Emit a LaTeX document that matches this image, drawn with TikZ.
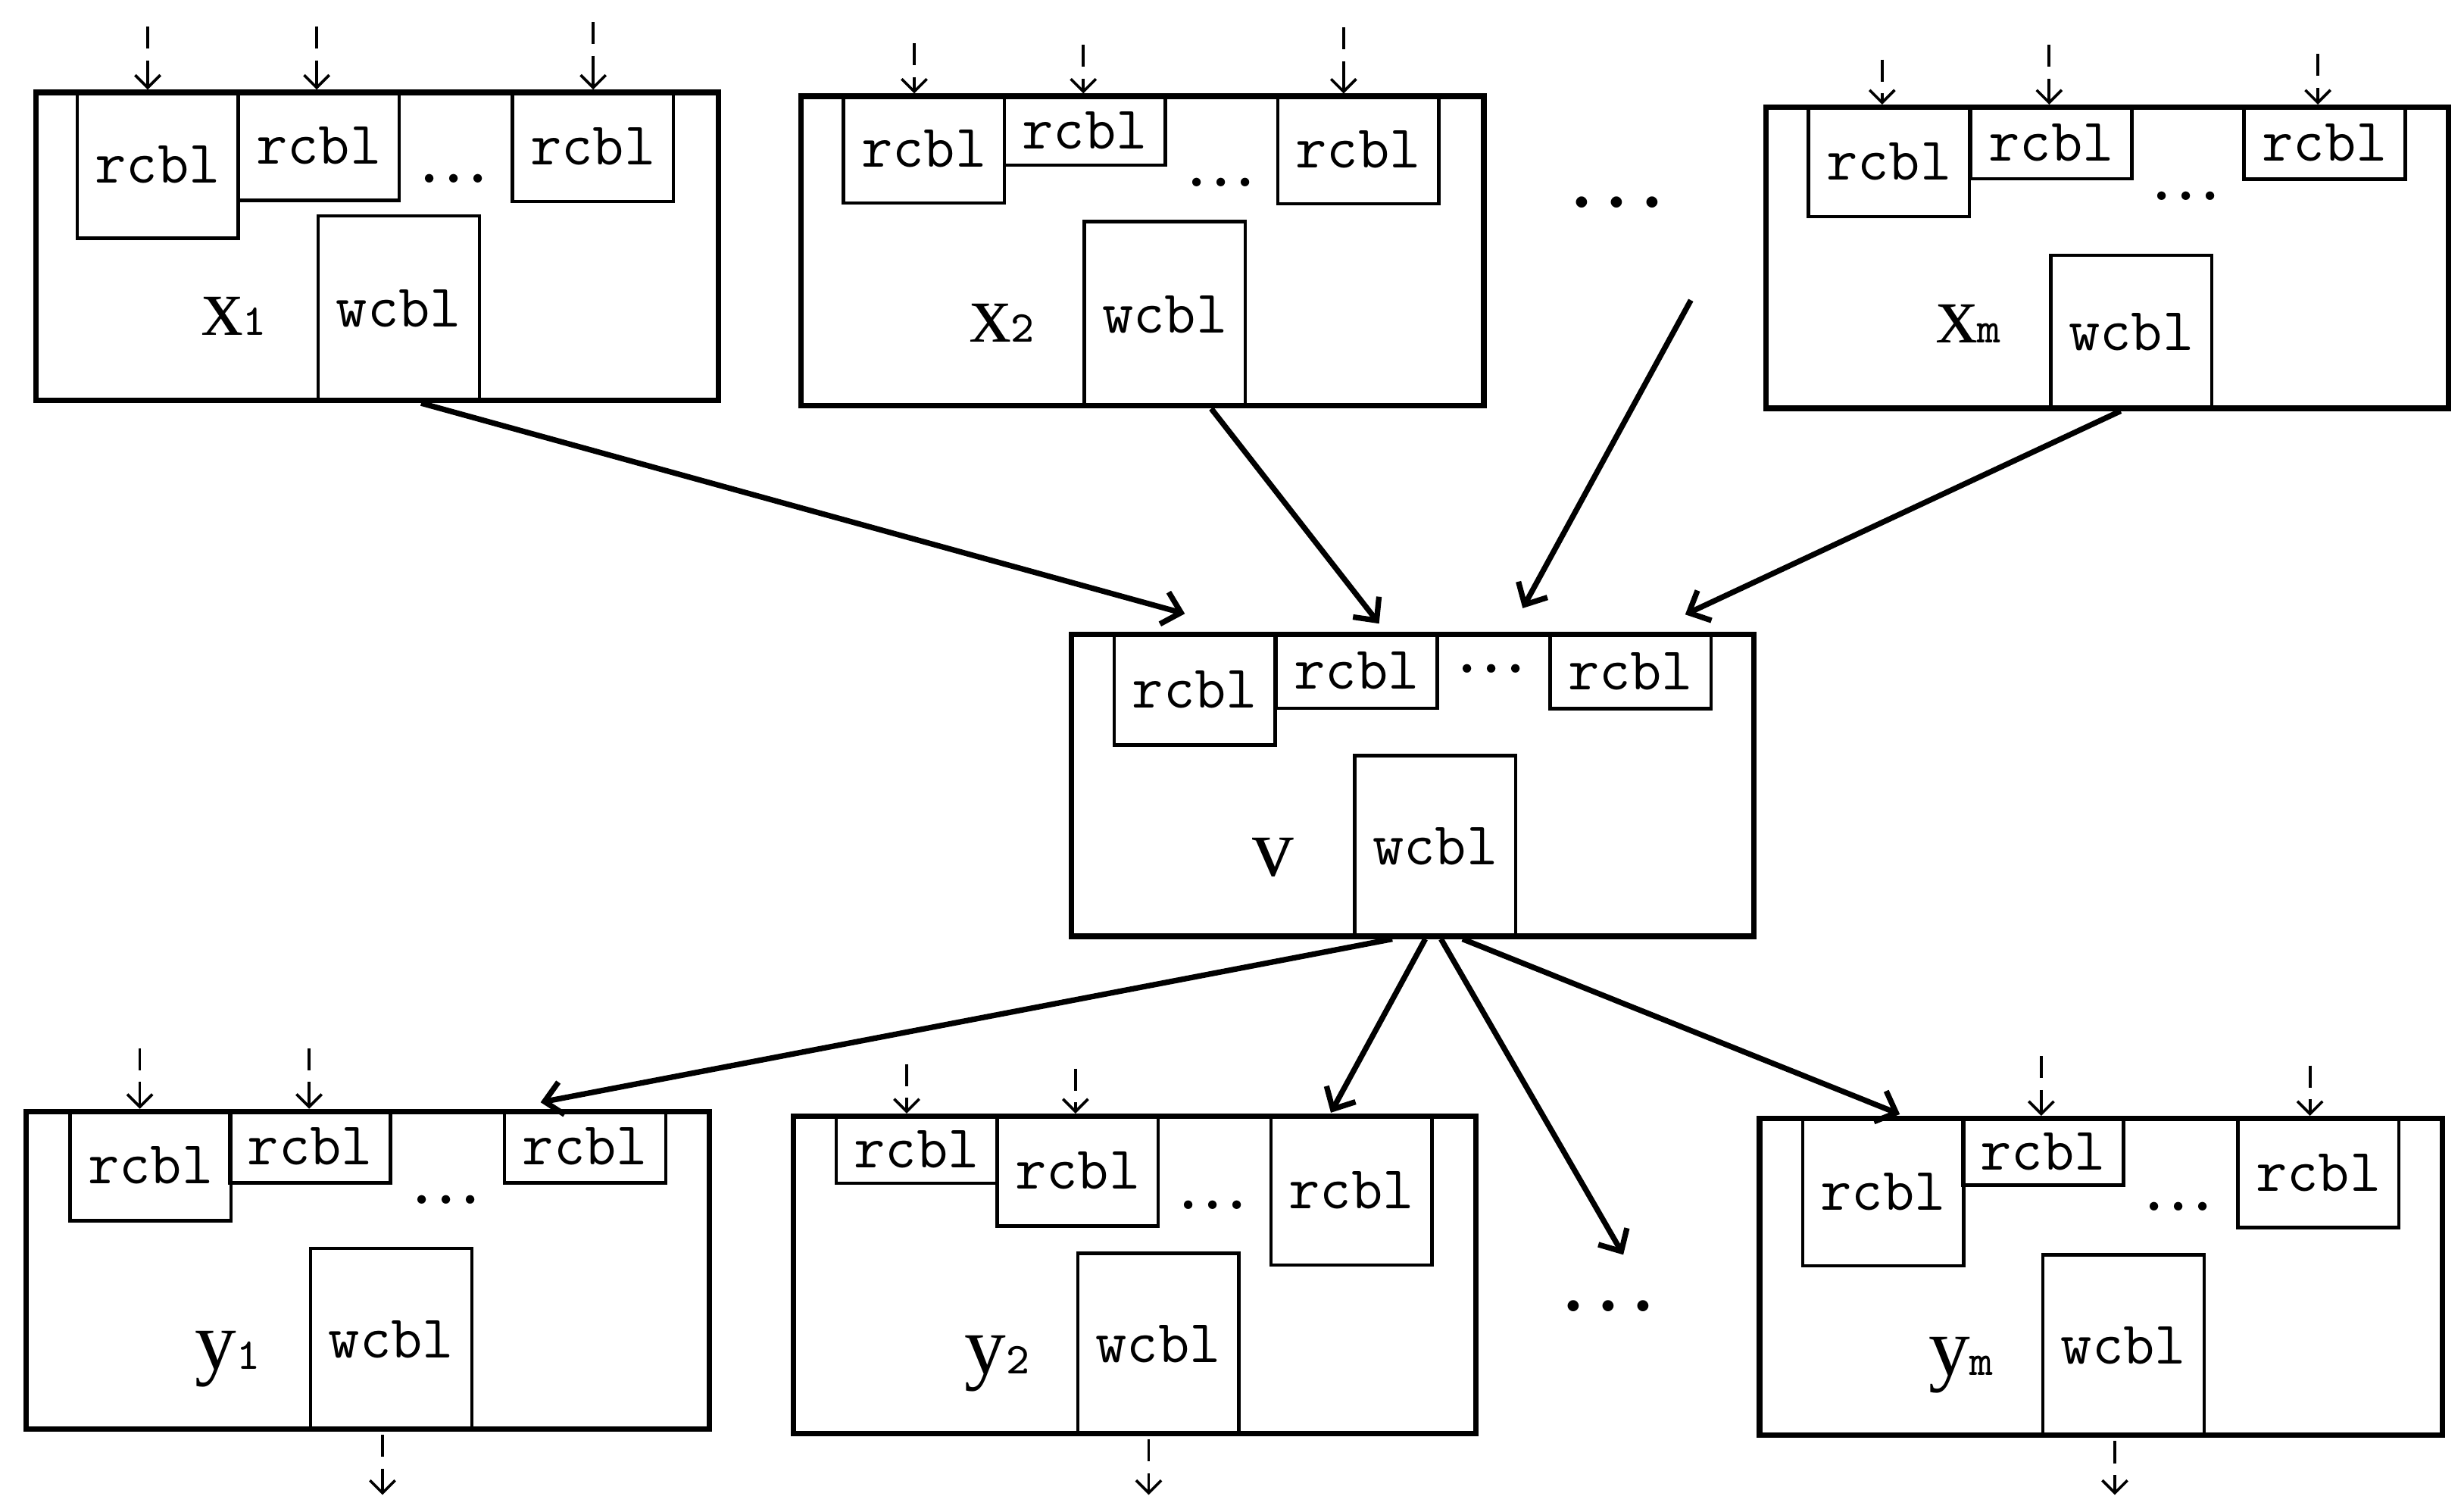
\documentclass[tikz,border=0pt]{standalone}
\usepackage{fontspec}
\newfontfamily\labelserif{Liberation Serif}
\usepackage{tikz}
\usetikzlibrary{arrows.meta,calc}

\newcommand{\lsub}[1]{{\fontsize{8}{8}\selectfont\ttfamily #1}}

\begin{document}
\begin{tikzpicture}
[x=0.1mm, y=-0.1mm,
blockbox/.style={draw, line width=1pt, inner sep=0pt, minimum width=43.45mm, anchor=north west},
rbox/.style={draw, line width=0.6pt, inner sep=0pt, minimum width=10.25mm, anchor=north west,
    font=\fontsize{11}{12}\selectfont\ttfamily},
wbox/.style={rbox, anchor=south west},
smalldots/.style={inner sep=0pt, font=\fontsize{10}{10}\selectfont\bfseries},
bigdots/.style={inner sep=0pt, font=\fontsize{14}{14}\selectfont\bfseries},
varlabel/.style={inner sep=0pt, anchor=base, font=\fontsize{15}{15}\selectfont\labelserif},
inarrow/.style={-{Straight Barb[length=0.8mm,width=1.6mm]}, line width=0.5pt,
    dash pattern=on 1.4mm off 0.75mm on 6mm off 1mm},
flow/.style={-{Straight Barb[length=1.1mm,width=2.1mm]}, line width=1pt}]

\useasboundingbox (0,0) rectangle (1568,962);

% x_1
\node[blockbox, minimum height=19.6mm] (x1) at (21,57) {};
\node[rbox, minimum height=9.36mm] (x1r1) at ($(x1.north west)+(27,0)$) {rcbl};
\node[rbox, minimum height=6.95mm] (x1r2) at ($(x1.north west)+(129.5,0)$) {rcbl};
\node[rbox, minimum height=7mm] (x1r3) at ($(x1.north west)+(304,0)$) {rcbl};
\node[wbox, minimum height=11.8mm] (x1w) at ($(x1.south west)+(180.5,0)$) {wcbl};
\node[smalldots] (x1d) at ($(x1.north west)+(268,56.6)$) {.\hspace{0.12em}.\hspace{0.12em}.};
\node[varlabel] (x1l) at ($(x1.north west)+(128,156.4)$) {x\lsub{1}};
\draw[inarrow] ($(x1.north west)+(73,-40)$) -- ($(x1.north west)+(73,0)$);
\draw[inarrow] ($(x1.north west)+(180.5,-40)$) -- ($(x1.north west)+(180.5,0)$);
\draw[inarrow] ($(x1.north west)+(356.5,-43)$) -- ($(x1.north west)+(356.5,0)$);

% x_2
\node[blockbox, minimum height=19.7mm] (x2) at (508,59.5) {};
\node[rbox, minimum height=6.85mm] (x2r1) at ($(x2.north west)+(27.7,0)$) {rcbl};
\node[rbox, minimum height=4.45mm] (x2r2) at ($(x2.north west)+(130,0)$) {rcbl};
\node[rbox, minimum height=6.92mm] (x2r3) at ($(x2.north west)+(304,0)$) {rcbl};
\node[wbox, minimum height=11.8mm] (x2w) at ($(x2.south west)+(181,0)$) {wcbl};
\node[smalldots] (x2d) at ($(x2.north west)+(269,56.5)$) {.\hspace{0.12em}.\hspace{0.12em}.};
\node[varlabel] (x2l) at ($(x2.north west)+(129.7,158.2)$) {x\lsub{2}};
\draw[inarrow] ($(x2.north west)+(73.8,-32)$) -- ($(x2.north west)+(73.8,0)$);
\draw[inarrow] ($(x2.north west)+(181.4,-31)$) -- ($(x2.north west)+(181.4,0)$);
\draw[inarrow] ($(x2.north west)+(347,-42)$) -- ($(x2.north west)+(347,0)$);

% x_m
\node[blockbox, minimum height=19.15mm] (xm) at (1122,66.5) {};
\node[rbox, minimum height=7.03mm] (xmr1) at ($(xm.north west)+(27.7,0)$) {rcbl};
\node[rbox, minimum height=4.62mm] (xmr2) at ($(xm.north west)+(131,0)$) {rcbl};
\node[rbox, minimum height=4.65mm] (xmr3) at ($(xm.north west)+(305,0)$) {rcbl};
\node[wbox, minimum height=9.8mm] (xmw) at ($(xm.south west)+(182,0)$) {wcbl};
\node[smalldots] (xmd) at ($(xm.north west)+(269,58.3)$) {.\hspace{0.12em}.\hspace{0.12em}.};
\node[varlabel] (xml) at ($(xm.north west)+(130.7,151.5)$) {x\lsub{m}};
\draw[inarrow] ($(xm.north west)+(75.7,-28.6)$) -- ($(xm.north west)+(75.7,0)$);
\draw[inarrow] ($(xm.north west)+(182,-38.1)$) -- ($(xm.north west)+(182,0)$);
\draw[inarrow] ($(xm.north west)+(353,-32.1)$) -- ($(xm.north west)+(353,0)$);

\node[bigdots] (topdots) at (1029,128.8) {.\hspace{0.14em}.\hspace{0.14em}.};
\coordinate (topfree) at (1076,191);

% v
\node[blockbox, minimum height=19.2mm] (v) at (680,402) {};
\node[rbox, minimum height=7.1mm] (vr1) at ($(v.north west)+(28,0)$) {rcbl};
\node[rbox, minimum height=4.75mm] (vr2) at ($(v.north west)+(131,0)$) {rcbl};
\node[rbox, minimum height=4.78mm] (vr3) at ($(v.north west)+(305.3,0)$) {rcbl};
\node[wbox, minimum height=11.56mm] (vw) at ($(v.south west)+(181,0)$) {wcbl};
\node[smalldots] (vd) at ($(v.north west)+(269,23.7)$) {.\hspace{0.12em}.\hspace{0.12em}.};
\node[varlabel] (vl) at ($(v.north west)+(130,155.4)$) {v};

% y_1
\node[blockbox, minimum height=20.2mm] (y1) at (15,705.5) {};
\node[rbox, minimum height=7.02mm] (y1r1) at ($(y1.north west)+(28.6,0)$) {rcbl};
\node[rbox, minimum height=4.61mm] (y1r2) at ($(y1.north west)+(130,0)$) {rcbl};
\node[rbox, minimum height=4.61mm] (y1r3) at ($(y1.north west)+(305,0)$) {rcbl};
\node[wbox, minimum height=11.55mm] (y1w) at ($(y1.south west)+(181.7,0)$) {wcbl};
\node[smalldots] (y1d) at ($(y1.north west)+(269,57.9)$) {.\hspace{0.12em}.\hspace{0.12em}.};
\node[varlabel] (y1l) at ($(y1.north west)+(130,165.9)$) {y\lsub{1}};
\draw[inarrow] ($(y1.north west)+(74,-38.5)$) -- ($(y1.north west)+(74,0)$);
\draw[inarrow] ($(y1.north west)+(181.7,-38.5)$) -- ($(y1.north west)+(181.7,0)$);
\draw[inarrow] ($(y1.south west)+(228.4,2)$) -- ($(y1.south west)+(228.4,40.2)$);

% y_2
\node[blockbox, minimum height=20.2mm] (y2) at (503,708.5) {};
\node[rbox, minimum height=4.33mm] (y2r1) at ($(y2.north west)+(28,0)$) {rcbl};
\node[rbox, minimum height=7.05mm] (y2r2) at ($(y2.north west)+(130.5,0)$) {rcbl};
\node[rbox, minimum height=9.55mm] (y2r3) at ($(y2.north west)+(304.7,0)$) {rcbl};
\node[wbox, minimum height=11.55mm] (y2w) at ($(y2.south west)+(181.8,0)$) {wcbl};
\node[smalldots] (y2d) at ($(y2.north west)+(269,58.3)$) {.\hspace{0.12em}.\hspace{0.12em}.};
\node[varlabel] (y2l) at ($(y2.north west)+(131.5,165.5)$) {y\lsub{2}};
\draw[inarrow] ($(y2.north west)+(74,-31.5)$) -- ($(y2.north west)+(74,0)$);
\draw[inarrow] ($(y2.north west)+(181.4,-28.5)$) -- ($(y2.north west)+(181.4,0)$);
\draw[inarrow] ($(y2.south west)+(228,2)$) -- ($(y2.south west)+(228,37.2)$);

% y_m
\node[blockbox, minimum height=20.15mm] (ym) at (1118,710) {};
\node[rbox, minimum height=9.44mm] (ymr1) at ($(ym.north west)+(28,0)$) {rcbl};
\node[rbox, minimum height=4.3mm] (ymr2) at ($(ym.north west)+(129.7,0)$) {rcbl};
\node[rbox, minimum height=7mm] (ymr3) at ($(ym.north west)+(305,0)$) {rcbl};
\node[wbox, minimum height=11.55mm] (ymw) at ($(ym.south west)+(181,0)$) {wcbl};
\node[smalldots] (ymd) at ($(ym.north west)+(268.5,57.8)$) {.\hspace{0.12em}.\hspace{0.12em}.};
\node[varlabel] (yml) at ($(ym.north west)+(130,165)$) {y\lsub{m}};
\draw[inarrow] ($(ym.north west)+(181,-38)$) -- ($(ym.north west)+(181,0)$);
\draw[inarrow] ($(ym.north west)+(352,-32)$) -- ($(ym.north west)+(352,0)$);
\draw[inarrow] ($(ym.south west)+(227.8,2)$) -- ($(ym.south west)+(227.8,36.2)$);

\node[bigdots] (botdots) at (1023.6,831) {.\hspace{0.14em}.\hspace{0.14em}.};
\coordinate (botfree) at (1033,798.4);

% into v
\draw[flow] ($(x1.south west)+(247,0)$) -- ($(v.north west)+(74,-11.5)$);
\draw[flow] ($(x2.south west)+(262.8,0)$) -- ($(v.north west)+(197.6,-5.2)$);
\draw[flow] (topfree) -- ($(v.north west)+(289,-15)$);
\draw[flow] ($(xm.south west)+(227.5,0)$) -- ($(v.north west)+(392.4,-11)$);
% out of v
\draw[flow] ($(v.south west)+(206,0)$) -- ($(y1.north west)+(329,-4.1)$);
\draw[flow] ($(v.south west)+(227,0)$) -- ($(y2.north west)+(343.9,-0.5)$);
\draw[flow] ($(v.south west)+(237,0)$) -- (botfree);
\draw[flow] ($(v.south west)+(250.7,0)$) -- ($(ym.north west)+(91,-1)$);
\end{tikzpicture}
\end{document}
